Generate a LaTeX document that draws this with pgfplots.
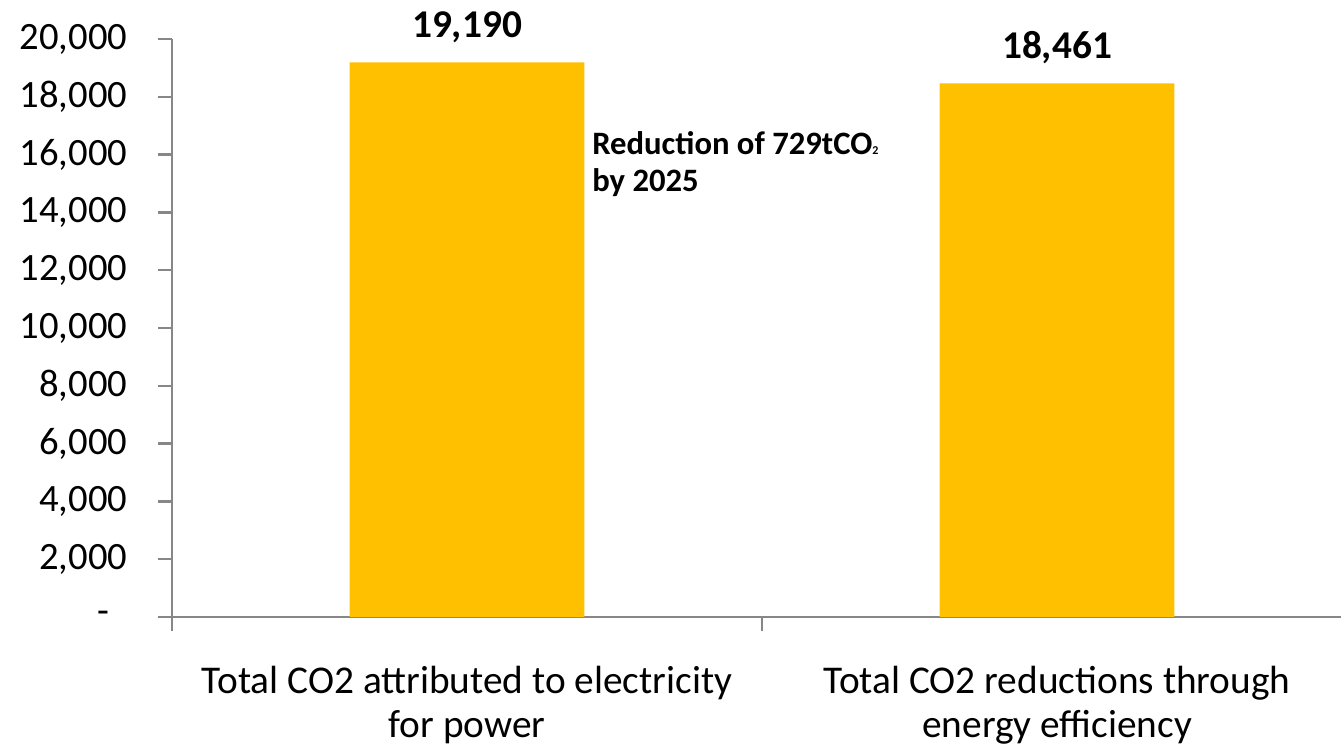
\documentclass[border=0pt]{standalone}
\usepackage{fontspec}
\setmainfont{Carlito}
\usepackage{pgfplots}
\pgfplotsset{compat=1.18}
\definecolor{bargold}{HTML}{FFC000}
\definecolor{axgray}{HTML}{878787}
\pgfplotstableread{
x y label
0 19190 {19,190}
1 18461 {18,461}
}\bars
\begin{document}
\begin{tikzpicture}
\useasboundingbox (-129pt,-98.25pt) rectangle (876.75pt,462.75pt);
\begin{axis}[
 at={(0,0)}, anchor=south west,
 scale only axis, width=885pt, height=433.5pt,
 xmin=-0.5, xmax=1.5, ymin=0, ymax=20000,
 axis x line=bottom, axis y line=left,
 axis line style={-, axgray, line width=2.2pt},
 tick style={axgray, line width=1.8pt}, tick align=outside, major tick length=10.5pt,
 xtick={-0.5,0.5,1.5}, xticklabels={},
 extra x ticks={0,1},
 extra x tick labels={{Total CO2 attributed to electricity\\for power},{Total CO2 reductions through\\energy efficiency}},
 extra x tick style={major tick length=0pt, xticklabel style={align=center, font=\fontsize{29.5}{33}\selectfont, yshift=-33pt}},
 ytick={0,2000,...,20000},
 scaled y ticks=false,
 yticklabels={{\makebox[22.5pt][l]{-}},{2,000},{4,000},{6,000},{8,000},{10,000},{12,000},{14,000},{16,000},{18,000},{20,000}},
 yticklabel style={font=\fontsize{29}{30}\selectfont, anchor=east, xshift=-19.5pt},
 ybar, bar width=0.398, bar shift=0pt,
 clip=false,
 nodes near coords, point meta=explicit symbolic,
 every node near coord/.append style={font=\bfseries\fontsize{29.5}{30}\selectfont, anchor=base, yshift=18.75pt, text=black},
]
\addplot[fill=bargold, draw=none] table[x=x, y=y, meta=label] {\bars};
\node[anchor=base west, font=\bfseries\fontsize{24.5}{28}\selectfont, inner sep=0pt] at (axis cs:0.2119,15986) {Reduction of 729tCO{\fontsize{9}{9}\selectfont 2}};
\node[anchor=base west, font=\bfseries\fontsize{24.5}{28}\selectfont, inner sep=0pt] at (axis cs:0.2119,14706) {by 2025};
\end{axis}
\end{tikzpicture}
\end{document}
